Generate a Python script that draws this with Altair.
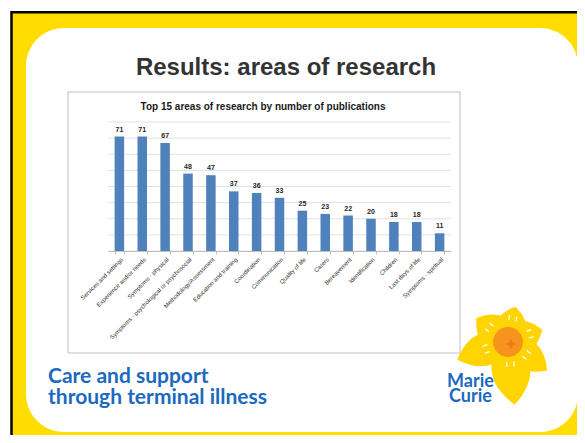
import altair as alt
import pandas as pd

# ---- data ----
categories = [
    "Services and settings", "Experience and/or needs", "Symptoms - physical",
    "Symptoms - psychological or psychosocial", "Methodology/Assessment",
    "Education and training", "Coordination", "Communication", "Quality of life",
    "Carers", "Bereavement", "Identification", "Children", "Last days of life",
    "Symptoms - spiritual",
]
publications = [71, 71, 67, 48, 47, 37, 36, 33, 25, 23, 22, 20, 18, 18, 11]
y_ticks = [0, 10, 20, 30, 40, 50, 60, 70, 80]

slide_title = "Results: areas of research"
chart_title = "Top 15 areas of research by number of publications"
footer_lines = ["Care and support", "through terminal illness"]
logo_lines = ["Marie", "Curie"]

# daffodil petals (decoration): direction in degrees, length in px
petal_angle = [12, 72, 127, 174, 250, 306]
petal_len = [35, 36, 49, 64, 54, 39]

df = pd.DataFrame({"cat": categories, "val": publications})
grid_df = pd.DataFrame({"v": y_ticks})
one = pd.DataFrame({"a": [0]})

BLUE = "#4F81BD"
YELLOW = "#FFDD00"
TEXT_BLUE = "#1B69C0"

x_enc = alt.X("cat:N", sort=None,
              scale=alt.Scale(paddingInner=0.585, paddingOuter=0.29),
              axis=alt.Axis(title=None, labelAngle=-45, labelFontSize=6,
                            labelColor="#333333", labelFont="Liberation Sans",
                            labelPadding=2, labelLimit=300,
                            domainColor="#bfbfbf", tickColor="#bfbfbf",
                            tickSize=3, tickBand="extent", zindex=1))
y_scale = alt.Scale(domain=[0, 80])

# decorations
bg = alt.Chart(one).mark_rect(fill=YELLOW, stroke="black", strokeWidth=2.5).encode(
    x=alt.value(-96.5), x2=alt.value(500), y=alt.value(-109.8), y2=alt.value(340))
white = alt.Chart(one).mark_rect(fill="white", cornerRadius=38).encode(
    x=alt.value(-82), x2=alt.value(470), y=alt.value(-94), y2=alt.value(310))
box = alt.Chart(one).mark_rect(fill="white", stroke="#bfbfbf", strokeWidth=1).encode(
    x=alt.value(-40), x2=alt.value(352), y=alt.value(-30), y2=alt.value(231))

grid = alt.Chart(grid_df).mark_rule(color="#d9d9d9", strokeWidth=0.8).encode(
    y=alt.Y("v:Q", scale=y_scale, axis=None))

bars = alt.Chart(df).mark_bar(color=BLUE).encode(
    x=x_enc,
    y=alt.Y("val:Q", scale=y_scale,
            axis=alt.Axis(title=None, values=y_ticks, grid=False, labelFontSize=5,
                          labelColor="#7f7f7f", labelPadding=4, domainColor="#bfbfbf",
                          tickColor="#bfbfbf", tickSize=2, zindex=1)))

vals = alt.Chart(df).mark_text(fontSize=7, fontWeight="bold", color="#262626",
                               baseline="alphabetic", dy=-5,
                               font="Liberation Sans").encode(
    x=alt.X("cat:N", sort=None), y=alt.Y("val:Q", scale=y_scale), text="val:Q")

title1 = alt.Chart(one).mark_text(font="Liberation Sans", fontWeight="bold", fontSize=24,
                                  color="#333333", align="center",
                                  baseline="alphabetic").encode(
    x=alt.value(178), y=alt.value(-47), text=alt.value(slide_title))
title2 = alt.Chart(one).mark_text(font="Liberation Sans", fontWeight="bold", fontSize=10,
                                  color="#1a1a1a", align="center",
                                  baseline="alphabetic").encode(
    x=alt.value(155), y=alt.value(-12.5), text=alt.value(chart_title))

footer = alt.Chart(one).mark_text(font="Lato", fontWeight="bold", fontSize=21,
                                  color=TEXT_BLUE, align="left", lineHeight=21,
                                  baseline="alphabetic").encode(
    x=alt.value(-60), y=alt.value(261.3), text=alt.value(footer_lines))
logo = alt.Chart(one).mark_text(font="Lato", fontWeight="bold", fontSize=18,
                                color=TEXT_BLUE, align="center", lineHeight=15,
                                baseline="alphabetic").encode(
    x=alt.value(362.5), y=alt.value(265), text=alt.value(logo_lines))

PETAL_NARROW = "M0,0 C-0.3,-0.1 -0.5,-0.55 0,-1 C0.5,-0.55 0.3,-0.1 0,0 Z"
PETAL_WIDE = "M0,0 C-0.5,-0.05 -0.65,-0.6 0,-1 C0.65,-0.6 0.5,-0.05 0,0 Z"
petals_df = pd.DataFrame({
    "ang": petal_angle,
    "sz": [(2 * L) ** 2 for L in petal_len],
    "path": [PETAL_WIDE if L < 40 else PETAL_NARROW for L in petal_len],
})
petals = alt.Chart(petals_df).mark_point(filled=True, fill="#FFD400", opacity=1,
                                         strokeWidth=0).encode(
    x=alt.value(400), y=alt.value(219),
    angle=alt.Angle("ang:Q", scale=None),
    size=alt.Size("sz:Q", scale=None),
    shape=alt.Shape("path:N", scale=None))
dash_df = pd.DataFrame({"ang": petal_angle, "sz": [80 ** 2] * len(petal_angle)})
dashes = alt.Chart(dash_df).mark_point(filled=False, stroke="white", strokeWidth=1.3,
                                       opacity=1,
                                       shape="M-0.09,-0.52L-0.09,-0.64M0.09,-0.52L0.09,-0.64").encode(
    x=alt.value(400), y=alt.value(219),
    angle=alt.Angle("ang:Q", scale=None),
    size=alt.Size("sz:Q", scale=None))
trumpet = alt.Chart(one).mark_point(filled=True, fill="#F7941D", opacity=1, strokeWidth=0,
                                    shape="circle", size=900).encode(
    x=alt.value(400), y=alt.value(220))
inner = alt.Chart(one).mark_point(filled=True, fill="#EE7A1A", opacity=1, strokeWidth=0,
                                  shape="M0,-1 L0.3,-0.3 L1,0 L0.3,0.3 L0,1 L-0.3,0.3 L-1,0 L-0.3,-0.3 Z",
                                  size=120).encode(
    x=alt.value(403), y=alt.value(222))

chart = alt.layer(
    bg, white, box, grid, bars, vals, title1, title2,
    footer, logo, petals, dashes, trumpet, inner
).properties(
    width=343, height=129,
    autosize=alt.AutoSizeParams(type="none"),
    padding={"left": 100, "top": 114, "right": 126, "bottom": 184},
    background="white",
).configure_view(strokeWidth=0)

chart.save("out.html", embed_options={"renderer": "svg", "actions": False})
